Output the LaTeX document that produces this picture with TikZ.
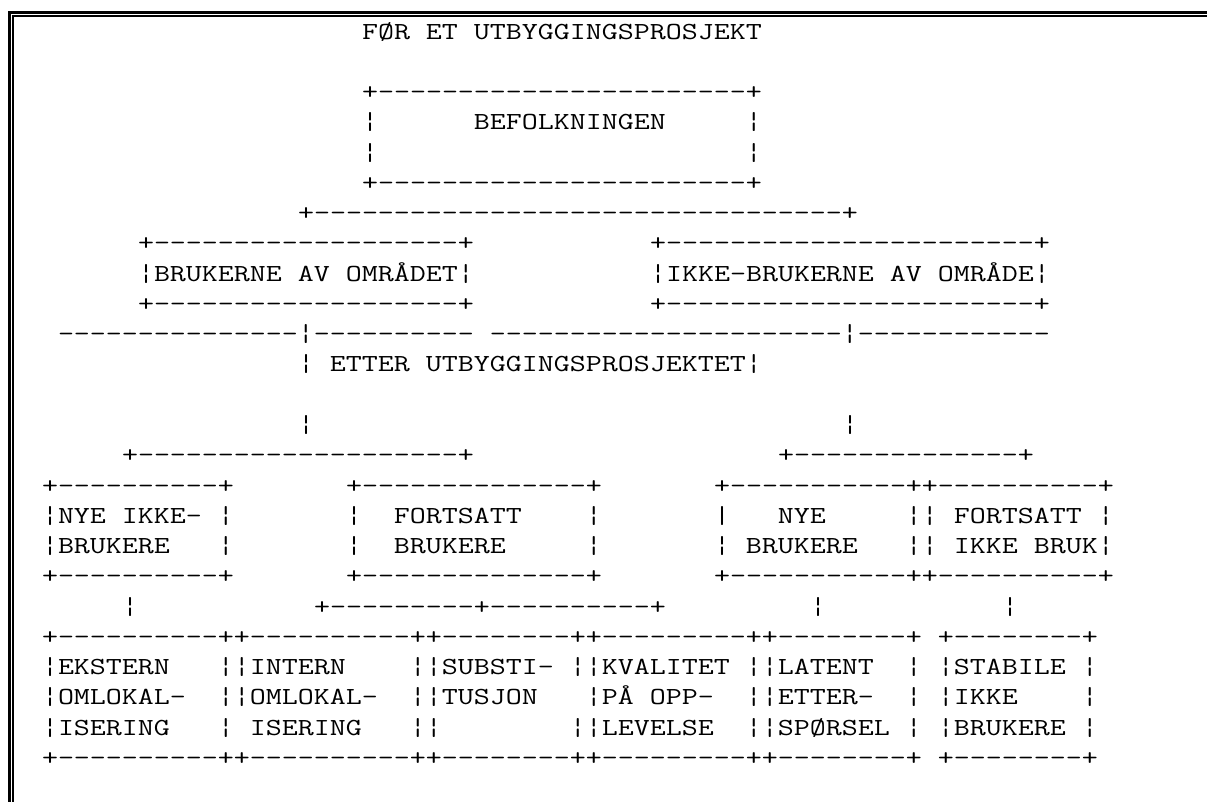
\documentclass[tikz,border=0pt]{standalone}
\usepackage{fontspec}
\setmonofont[FakeStretch=1.268]{Latin Modern Mono}
\usetikzlibrary{positioning}

% repeated characters of the text grid
\newcommand{\dashrun}[1]{\foreach \k in {1,...,#1}{-}}
\newcommand{\gaprun}[1]{\foreach \k in {1,...,#1}{~}}

\begin{document}
\begin{tikzpicture}[
		x=16pt, y=-30.27pt,
		txt/.style={anchor=base west, inner sep=0pt, outer sep=0pt,
			font=\ttfamily\fontsize{24.5pt}{30.27pt}\selectfont},
		rim/.style={line cap=rect, line join=miter}
		]
		\useasboundingbox (0pt,0pt) rectangle (1207pt,-801pt);
		
		% --- double rule on top and left ---
		\draw[rim, line width=3pt] (9.5pt,-801pt) -- (9.5pt,-12.5pt) -- (1207pt,-12.5pt);
		\draw[rim, line width=2pt] (13pt,-801pt) -- (13pt,-16pt) -- (1207pt,-16pt);
		
		\begin{scope}[shift={(10pt,-39pt)}]
		% --- before the project ---
		\node[txt] (title) at (22,0) {FØR ET UTBYGGINGSPROSJEKT};
		\node[txt] (befTop) at (22,2) {+\dashrun{23}+};
		\node[txt] (befText) at (22,3) {¦\gaprun{6}BEFOLKNINGEN\gaprun{5}¦};
		\node[txt] (befGap) at (22,4) {¦\gaprun{23}¦};
		\node[txt] (befBot) at (22,5) {+\dashrun{23}+};
		\node[txt] (split) at (18,6) {+\dashrun{33}+};
		
		\node[txt] (brukTop) at (8,7) {+\dashrun{19}+};
		\node[txt] (brukText) at (8,8) {¦BRUKERNE AV OMRÅDET¦};
		\node[txt] (brukBot) at (8,9) {+\dashrun{19}+};
		\node[txt] (ikkeTop) at (40,7) {+\dashrun{23}+};
		\node[txt] (ikkeText) at (40,8) {¦IKKE-BRUKERNE AV OMRÅDE¦};
		\node[txt] (ikkeBot) at (40,9) {+\dashrun{23}+};
		
		% --- after the project ---
		\node[txt] (divider) at (3,10) {\dashrun{15}¦\dashrun{10}~\dashrun{22}¦\dashrun{12}};
		\node[txt] (after) at (18,11) {¦~ETTER UTBYGGINGSPROSJEKTET¦};
		\node[txt] (linkL) at (18,13) {¦};
		\node[txt] (linkR) at (52,13) {¦};
		\node[txt] (forkL) at (7,14) {+\dashrun{20}+};
		\node[txt] (forkR) at (48,14) {+\dashrun{14}+};
		
		\node[txt] (nyeIkkeTop) at (2,15) {+\dashrun{10}+};
		\node[txt] (nyeIkkeA) at (2,16) {¦NYE IKKE-~¦};
		\node[txt] (nyeIkkeB) at (2,17) {¦BRUKERE\gaprun{3}¦};
		\node[txt] (nyeIkkeBot) at (2,18) {+\dashrun{10}+};
		
		\node[txt] (fortTop) at (21,15) {+\dashrun{14}+};
		\node[txt] (fortA) at (21,16) {¦\gaprun{2}FORTSATT\gaprun{4}¦};
		\node[txt] (fortB) at (21,17) {¦\gaprun{2}BRUKERE\gaprun{5}¦};
		\node[txt] (fortBot) at (21,18) {+\dashrun{14}+};
		
		\node[txt] (nyeTop) at (44,15) {+\dashrun{11}++\dashrun{10}+};
		\node[txt] (nyeA) at (44,16) {|\gaprun{3}NYE\gaprun{5}¦¦~FORTSATT~¦};
		\node[txt] (nyeB) at (44,17) {¦~BRUKERE\gaprun{3}¦¦~IKKE BRUK¦};
		\node[txt] (nyeBot) at (44,18) {+\dashrun{11}++\dashrun{10}+};
		
		% --- links to the bottom row ---
		\node[txt] (dropA) at (7,19) {¦};
		\node[txt] (forkM) at (19,19) {+\dashrun{9}+\dashrun{10}+};
		\node[txt] (dropB) at (50,19) {¦};
		\node[txt] (dropC) at (62,19) {¦};
		
		% --- bottom row of boxes ---
		\node[txt] (lowTop) at (2,20) {+\dashrun{10}++\dashrun{10}++\dashrun{8}++\dashrun{9}++\dashrun{8}+~+\dashrun{8}+};
		\node[txt] (lowA) at (2,21) {¦EKSTERN\gaprun{3}¦¦INTERN\gaprun{4}¦¦SUBSTI-~¦¦KVALITET~¦¦LATENT\gaprun{2}¦~¦STABILE~¦};
		\node[txt] (lowB) at (2,22) {¦OMLOKAL-\gaprun{2}¦¦OMLOKAL-\gaprun{2}¦¦TUSJON\gaprun{3}¦PÅ OPP-\gaprun{2}¦¦ETTER-\gaprun{2}¦~¦IKKE\gaprun{4}¦};
		\node[txt] (lowC) at (2,23) {¦ISERING\gaprun{3}¦~ISERING\gaprun{3}¦¦\gaprun{8}¦¦LEVELSE\gaprun{2}¦¦SPØRSEL~¦~¦BRUKERE~¦};
		\node[txt] (lowBot) at (2,24) {+\dashrun{10}++\dashrun{10}++\dashrun{8}++\dashrun{9}++\dashrun{8}+~+\dashrun{8}+};
		\end{scope}
		
	\end{tikzpicture}
\end{document}
